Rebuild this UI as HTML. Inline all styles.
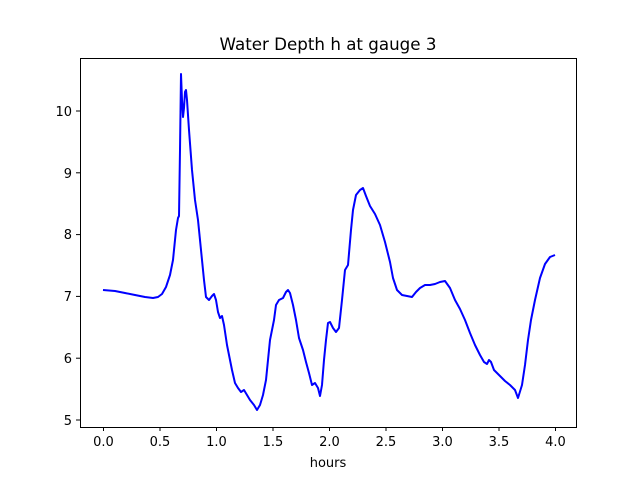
<!DOCTYPE html>
<html><head><style>body{margin:0;background:#fff}svg{display:block}text{font-family:"DejaVu Sans",sans-serif;fill:#000}</style></head>
<body><svg width="640" height="480" xmlns="http://www.w3.org/2000/svg">
<rect width="640" height="480" fill="#fff"/>
<text x="328" y="50" font-size="16.7" text-anchor="middle">Water Depth h at gauge 3</text>
<polyline fill="none" stroke="#0000ff" stroke-width="2" stroke-linejoin="round" points="103,290 120,292 140,295 160,297 180,298 195,298 205,296 215,290 222,280 230,262 235,245 238,228 239,222 240,217 180,217" style="display:none"/>
<polyline fill="none" stroke="#0000ff" stroke-width="2" stroke-linejoin="round" points="103,290 120,292 140,295 150,297 155,298 150,297 140,295 120,292 103,290" style="display:none"/>
<polyline fill="none" stroke="#0000ff" stroke-width="2" stroke-linejoin="round" points="103,290 115,291 125,293 135,295 145,297 153,298 158,297 162,294 166,287 170,275 173,260 175,240 176,230 178,218 179,216 180,150 181,74 182,100 183,117 184,108 185,92 186,90 187,100 189,130 192,170 195,200 198,220 201,250 204,280 206,297 209,300 212,296 214,294 216,300 218,312 220,318 222,316 224,325 227,345 230,360 232,370 235,383 238,388 241,392 244,390 247,395 250,400 254,405 257,410 260,405 263,395 266,380 268,360 270,340 272,330 274,320 276,305 279,300 283,298 286,292 288,290 290,293 293,305 296,320 299,338 303,350 306,362 309,373 312,385 315,383 318,388 320,396 322,385 324,360 326,340 328,323 330,322 333,328 336,332 339,328 342,300 345,270 348,265 351,230 353,210 356,195 360,190 363,188 366,196 370,206 375,214 380,225 385,242 390,262 393,278 397,290 402,295 407,296 412,297 416,292 420,288 425,285 430,285 435,284 440,282 445,281 450,288 455,300 460,309 465,320 470,333 475,345 480,355 484,362 487,364 489,360 491,362 494,370 500,376 505,381 510,385 515,390 518,398 522,385 525,365 528,340 531,320 535,300 540,278 545,264 550,257 555,255"/>
<rect x="80.5" y="58.5" width="496" height="369" fill="none" stroke="#000" stroke-width="1"/>
<g stroke="#000" stroke-width="1">
<line x1="103.5" y1="427" x2="103.5" y2="431"/><line x1="160" y1="427" x2="160" y2="431"/><line x1="216.5" y1="427" x2="216.5" y2="431"/><line x1="273" y1="427" x2="273" y2="431"/><line x1="329.5" y1="427" x2="329.5" y2="431"/><line x1="386" y1="427" x2="386" y2="431"/><line x1="442.5" y1="427" x2="442.5" y2="431"/><line x1="499" y1="427" x2="499" y2="431"/><line x1="555.5" y1="427" x2="555.5" y2="431"/>
<line x1="76" y1="420" x2="80" y2="420"/><line x1="76" y1="358.2" x2="80" y2="358.2"/><line x1="76" y1="296.4" x2="80" y2="296.4"/><line x1="76" y1="234.6" x2="80" y2="234.6"/><line x1="76" y1="172.8" x2="80" y2="172.8"/><line x1="76" y1="111" x2="80" y2="111"/>
</g>
<g font-size="13" text-anchor="middle">
<text x="103.5" y="446">0.0</text><text x="160" y="446">0.5</text><text x="216.5" y="446">1.0</text><text x="273" y="446">1.5</text><text x="329.5" y="446">2.0</text><text x="386" y="446">2.5</text><text x="442.5" y="446">3.0</text><text x="499" y="446">3.5</text><text x="555.5" y="446">4.0</text>
<text x="328" y="467">hours</text>
</g>
<g font-size="13" text-anchor="end">
<text x="72" y="425">5</text><text x="72" y="363">6</text><text x="72" y="301">7</text><text x="72" y="239">8</text><text x="72" y="178">9</text><text x="72" y="116">10</text>
</g>
</svg></body></html>
